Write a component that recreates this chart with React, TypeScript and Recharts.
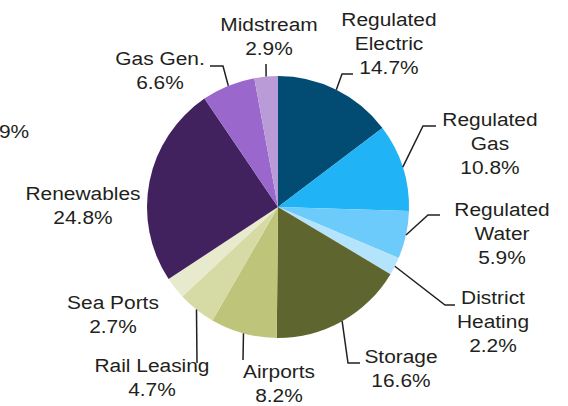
import React from "react";
import { PieChart, Pie, Cell } from "recharts";

const categories = [
  "Regulated Electric",
  "Regulated Gas",
  "Regulated Water",
  "District Heating",
  "Storage",
  "Airports",
  "Rail Leasing",
  "Sea Ports",
  "Renewables",
  "Gas Gen.",
  "Midstream",
];
const shares = [14.7, 10.8, 5.9, 2.2, 16.6, 8.2, 4.7, 2.7, 24.8, 6.6, 2.9];
const colors = [
  "#024b72",
  "#20b4f6",
  "#6ccbfa",
  "#b4e4fb",
  "#5f652f",
  "#bfc47b",
  "#d6daa4",
  "#e8eacd",
  "#42215f",
  "#9a67cc",
  "#b99bd7",
];
const strayLabel = "9%";

// label layout: text centre x, first baseline y, whether to wrap, leader points after slice edge
const labelLayout = [
  { x: 389, y: 26, wrap: true, pts: [[342, 74], [353, 74]] },
  { x: 490, y: 126, wrap: true, pts: [[423, 126], [436, 126]] },
  { x: 502, y: 216, wrap: true, pts: [[428, 215], [440, 215]] },
  { x: 493, y: 304, wrap: true, pts: [[445, 305], [455, 305]] },
  { x: 401, y: 363, wrap: false, pts: [[348, 363], [360, 363]] },
  { x: 279, y: 378, wrap: false, pts: [[243, 360]] },
  { x: 152, y: 372, wrap: false, pts: [[197, 363]] },
  { x: 113, y: 309, wrap: false, pts: [] },
  { x: 83, y: 200, wrap: false, pts: [] },
  { x: 160, y: 65, wrap: false, pts: [[223, 66], [210, 66]] },
  { x: 269, y: 31, wrap: false, pts: [[266, 64]] },
];

const data = categories.map((name, i) => ({ name, value: shares[i] }));

const FONT = "'Liberation Sans', Arial, sans-serif";
const TEXT = "#231f20";
const RAD = Math.PI / 180;
const SX = 1.1;

const Label = ({ x, y, lines }: { x: number; y: number; lines: string[] }) => (
  <text
    x={x}
    y={y}
    textAnchor="middle"
    fontFamily={FONT}
    fontSize={19}
    fill={TEXT}
    transform={`translate(${x},0) scale(${SX},1) translate(${-x},0)`}
  >
    {lines.map((l, k) => (
      <tspan key={k} x={x} dy={k === 0 ? 0 : 24}>
        {l}
      </tspan>
    ))}
  </text>
);

const renderLabel = (props: any) => {
  const { cx, cy, midAngle, outerRadius, index } = props;
  const lay = labelLayout[index];
  const sx = cx + outerRadius * Math.cos(-midAngle * RAD);
  const sy = cy + outerRadius * Math.sin(-midAngle * RAD);
  const name = categories[index];
  const lines = lay.wrap ? name.split(" ") : [name];
  lines.push(shares[index].toFixed(1) + "%");
  const pts = [[sx, sy], ...lay.pts];
  return (
    <g key={"lbl" + index}>
      {lay.pts.length > 0 && (
        <polyline
          points={pts.map((p) => p.join(",")).join(" ")}
          fill="none"
          stroke={TEXT}
          strokeWidth={1.5}
        />
      )}
      <Label x={lay.x} y={lay.y} lines={lines} />
    </g>
  );
};

export default function App() {
  return (
    <div
      style={{
        position: "absolute",
        left: 0,
        top: 0,
        width: 568,
        height: 406,
        background: "#fff",
        overflow: "hidden",
      }}
    >
      <PieChart width={568} height={406} margin={{ top: 0, right: 0, bottom: 0, left: 0 }}>
        <Pie
          data={data}
          dataKey="value"
          nameKey="name"
          cx={278}
          cy={207}
          outerRadius={131}
          startAngle={90}
          endAngle={-270}
          stroke="none"
          label={renderLabel}
          labelLine={false}
          isAnimationActive={false}
        >
          {data.map((d, i) => (
            <Cell key={d.name} fill={colors[i]} />
          ))}
        </Pie>
      </PieChart>
      <svg
        width={568}
        height={406}
        style={{ position: "absolute", left: 0, top: 0, pointerEvents: "none" }}
      >
        <Label x={14} y={138} lines={[strayLabel]} />
      </svg>
    </div>
  );
}
